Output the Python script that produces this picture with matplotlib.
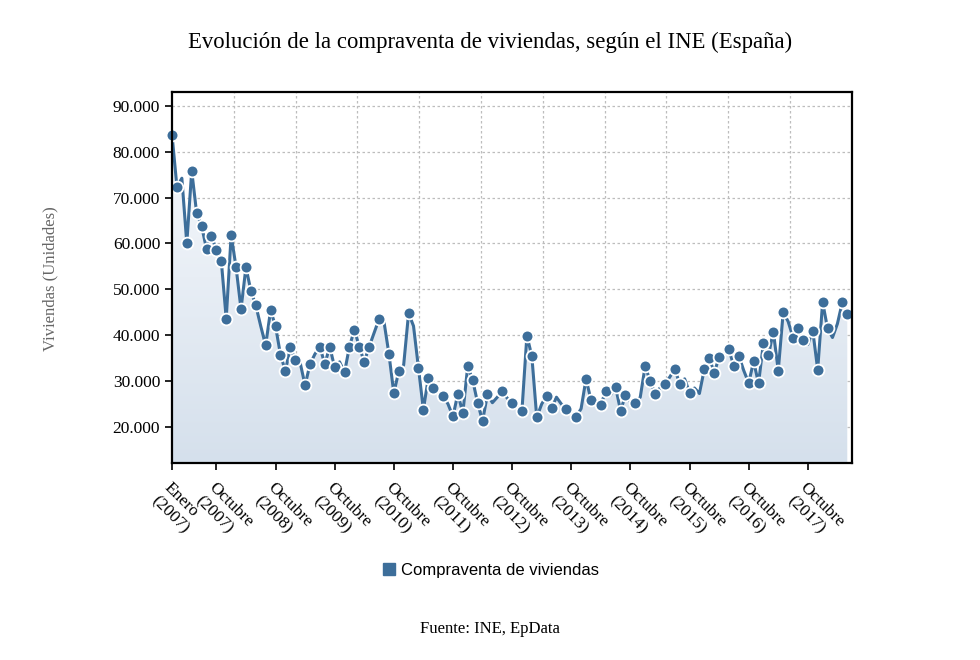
import numpy as np
import matplotlib
matplotlib.use("Agg")
import matplotlib.pyplot as plt
from matplotlib.colors import LinearSegmentedColormap
from matplotlib.lines import Line2D
from matplotlib.ticker import FuncFormatter

plt.rcParams['font.family'] = ['Liberation Serif', 'DejaVu Serif']

# compraventa mensual de viviendas, enero 2007 - junio 2018
ventas = [
    83700, 72300, 74200, 60000, 75800, 66600, 63800, 58800, 61700, 58500,
    56200, 43600, 61800, 54800, 45700, 54800, 49700, 46500, 42000, 37800,
    45400, 42000, 35800, 32200, 37400, 34600, 34000, 29100, 33700, 35900,
    37500, 33700, 37500, 33000, 34200, 31900, 37500, 41200, 37500, 34200,
    37500, 40500, 43500, 43000, 36000, 27400, 32100, 33500, 44800, 42000,
    32900, 23800, 30700, 28600, 27600, 26800, 25000, 22300, 27300, 23000,
    33300, 30200, 25300, 21300, 27100, 25300, 26500, 27800, 26300, 25200,
    24400, 23600, 39900, 35500, 22100, 25000, 26800, 24100, 26500, 25000,
    23900, 23000, 22200, 24000, 30500, 25900, 26000, 24900, 27800, 27000,
    28700, 23600, 26900, 25500, 25200, 26500, 33300, 30000, 27300, 28500,
    29400, 30900, 32700, 29400, 30500, 27500, 28500, 27300, 32600, 35100,
    31800, 35200, 36000, 36900, 33200, 35500, 32300, 29600, 34300, 29500,
    38400, 35600, 40800, 32300, 45000, 43000, 39500, 41500, 39000, 38000,
    41000, 32500, 47200, 41500, 39500, 42500, 47200, 44700,
]
# puntos que en el original no llevan marcador
sin_marcador = [2, 18, 26, 29, 34, 41, 43, 47, 49, 54, 56, 65, 66, 68, 70,
                75, 78, 79, 81, 83, 86, 89, 93, 95, 99, 101, 104, 106, 107,
                112, 116, 125, 129, 134, 135]

etiquetas = ['Enero\n(2007)'] + ['Octubre\n(%d)' % a for a in range(2007, 2018)]
pos_etiquetas = [0] + [9 + 12 * k for k in range(11)]
y_ticks = [20000, 30000, 40000, 50000, 60000, 70000, 80000, 90000]

azul = '#3d6e9a'
x = np.arange(len(ventas))
y_min, y_max = 12100, 93050
x_max = 137.9

fig = plt.figure(figsize=(9.8, 6.6), dpi=100)
ax = fig.add_axes([172 / 980, 1 - 463.3 / 660, (851.7 - 172) / 980, (463.3 - 91.7) / 660])

# area con degradado
area = ax.fill_between(x, ventas, y_min, color='none', lw=0)
grad = np.linspace(0, 1, 256).reshape(-1, 1)
cmap = LinearSegmentedColormap.from_list('g', ['#d5e0ec', '#fbfcfe'])
img = ax.imshow(grad, extent=[0, x_max, y_min, y_max], origin='lower',
                cmap=cmap, aspect='auto', zorder=1)
img.set_clip_path(area.get_paths()[0], transform=ax.transData)

mostrar = [i for i in x if i not in sin_marcador]
ax.plot(x, ventas, color=azul, lw=2.2, zorder=3, marker='o', markevery=mostrar,
        markersize=8.5, markerfacecolor=azul, markeredgecolor='white',
        markeredgewidth=1.3, clip_on=False)

ax.set_xlim(0, x_max)
ax.set_ylim(y_min, y_max)

ax.set_yticks(y_ticks)
ax.yaxis.set_major_formatter(FuncFormatter(lambda v, p: '{:,.0f}'.format(v).replace(',', '.')))
ax.set_xticks(pos_etiquetas)
ax.set_xticklabels(etiquetas, rotation=-45, ha='left', va='top',
                   rotation_mode='anchor', multialignment='left')
ax.set_xticks(np.linspace(0, x_max, 12), minor=True)
ax.tick_params(axis='both', labelsize=12.5, length=5, width=1.2, color='black')
ax.tick_params(axis='x', which='major', pad=7)
ax.tick_params(axis='x', which='minor', length=0)

ax.grid(True, axis='y', which='major', color='#bdbdbd', linestyle=(0, (2, 2)), lw=0.9)
ax.grid(True, axis='x', which='minor', color='#bdbdbd', linestyle=(0, (2, 2)), lw=0.9)
ax.set_axisbelow(True)
for spine in ax.spines.values():
    spine.set_linewidth(1.6)
    spine.set_zorder(4)

fig.text(0.5, 1 - 42 / 660, 'Evolución de la compraventa de viviendas, según el INE (España)',
         ha='center', va='center', fontsize=16.4)
fig.text(50 / 980, 1 - 279 / 660, 'Viviendas (Unidades)', rotation=90,
         ha='center', va='center', fontsize=12, color='#666666')
fig.text(0.5, 1 - 629 / 660, 'Fuente: INE, EpData', ha='center', va='center', fontsize=12)

marca = Line2D([], [], marker='s', linestyle='none', color=azul, markersize=8)
fig.legend([marca], ['Compraventa de viviendas'], loc='center',
           bbox_to_anchor=(490 / 980, 1 - 570 / 660), frameon=False,
           prop={'family': 'Liberation Sans', 'size': 12},
           handletextpad=0.2, handlelength=1.0)

fig.savefig('out.png', dpi=100, facecolor='white')
